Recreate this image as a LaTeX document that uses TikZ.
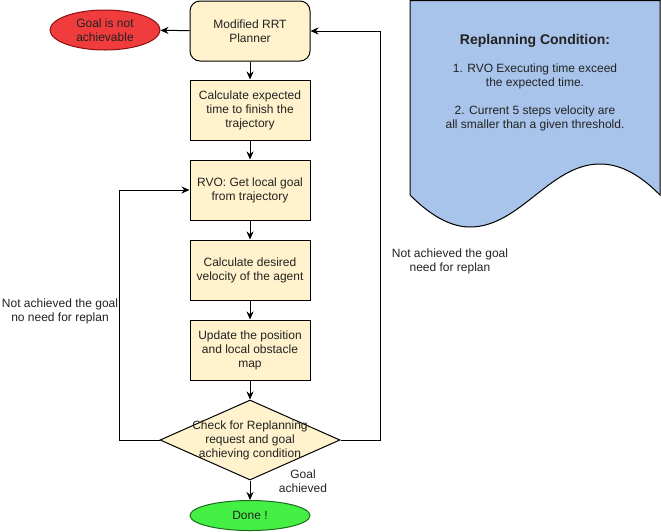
\documentclass[tikz,border=0pt]{standalone}
\usepackage{fontspec}
\setmainfont{Liberation Sans}
\usetikzlibrary{shapes.geometric,arrows.meta}
\definecolor{boxyellow}{HTML}{FFF2CC}
\definecolor{notered}{HTML}{F03C3C}
\definecolor{notedred}{HTML}{8A1010}
\definecolor{donegreen}{HTML}{44F044}
\definecolor{donedgreen}{HTML}{1E6A1E}
\definecolor{condblue}{HTML}{A9C4EB}
\definecolor{txtgray}{HTML}{222222}

\begin{document}
\begin{tikzpicture}[x=1pt,y=-1pt,line width=1pt,
  txt/.style={font=\fontsize{12}{14}\selectfont,text=txtgray,align=center,inner sep=0pt},
  proc/.style={txt,draw,fill=boxyellow,minimum width=120pt,minimum height=60pt},
  term/.style={txt,draw,ellipse,inner sep=0pt},
  arr/.style={-{Stealth[length=8pt,width=7pt]}}]
\useasboundingbox (0,0) rectangle (661,531);
\draw[fill=condblue] (410,0.5) -- (660,0.5) -- (660,195)
   .. controls (645,180) and (625,164) .. (600,164)
   .. controls (550,164) and (520,227) .. (470,227)
   .. controls (450,227) and (430,215) .. (410,195) -- cycle;
\node[txt] (cond) at (535,83) {{\fontsize{14}{14}\selectfont\bfseries Replanning Condition:}\\[14pt]
   1. RVO Executing time exceed\\ the expected time.\\[14pt]
   2. Current 5 steps velocity are\\ all smaller than a given threshold.};
\node[proc,rounded corners=10pt] (rrt) at (250,31) {Modified RRT\\Planner};
\node[term,fill=notered,draw=notedred,minimum width=110pt,minimum height=40pt] (nogoal) at (105,30) {Goal is not\\achievable};
\node[proc] (calc) at (250,110) {Calculate expected\\time to finish the\\trajectory};
\node[proc] (rvo) at (250,190) {RVO: Get local goal\\from trajectory};
\node[proc] (vel) at (250,270) {Calculate desired\\velocity of the agent};
\node[proc] (upd) at (250,350) {Update the position\\and local obstacle\\map};
\node[draw,diamond,fill=boxyellow,minimum width=180pt,minimum height=80pt,inner sep=0pt,
   label={[txt]center:Check for Replanning\\request and goal\\achieving condition}] (chk) at (250,440) {};
\node[term,fill=donegreen,draw=donedgreen,minimum width=120pt,minimum height=30pt] (done) at (250,515.5) {Done !};
\draw[arr] (rrt) -- (nogoal);
\draw[arr] (rrt) -- (calc);
\draw[arr] (calc) -- (rvo);
\draw[arr] (rvo) -- (vel);
\draw[arr] (vel) -- (upd);
\draw[arr] (upd) -- (chk);
\draw[arr] (chk) -- (done);
\draw[arr] (chk.west) -- ++(-40,0) |- (rvo.west);
\draw[arr] (chk.east) -- ++(40,0) |- (rrt.east);
\node[txt] (ok) at (303,481) {Goal\\achieved};
\node[txt] (noreplan) at (60,311) {Not achieved the goal\\no need for replan};
\node[txt] (replan) at (450,261) {Not achieved the goal\\need for replan};
\end{tikzpicture}
\end{document}
